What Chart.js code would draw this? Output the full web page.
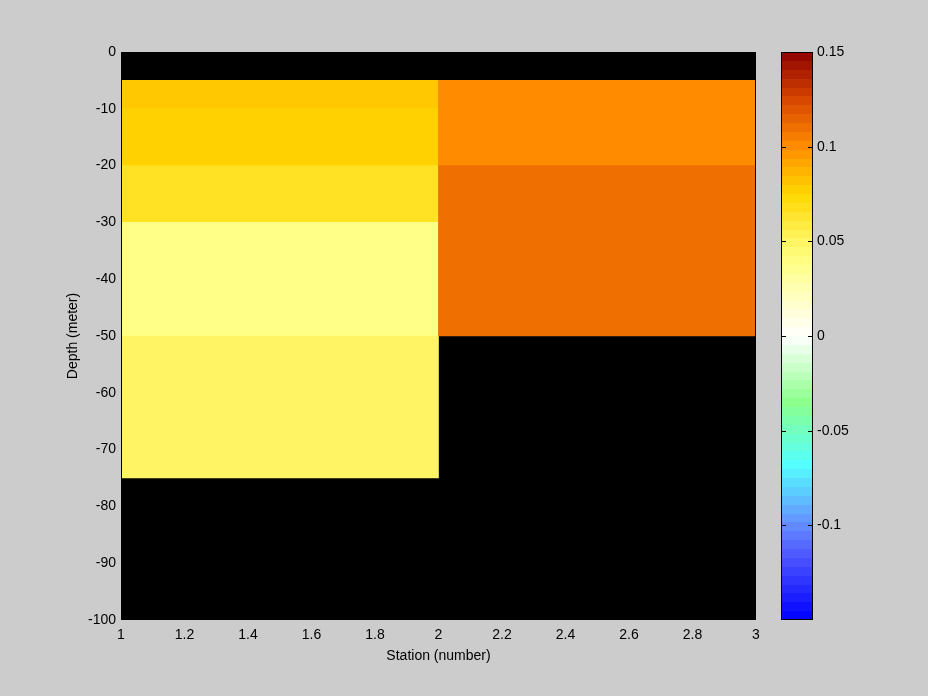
<!DOCTYPE html>
<html>
<head>
<meta charset="utf-8">
<script src="https://cdn.jsdelivr.net/npm/chart.js@4.4.0/dist/chart.umd.min.js"></script>
<style>
  html, body { margin: 0; padding: 0; background: #cccccc; }
  #wrap { position: relative; width: 928px; height: 696px; }
  canvas { position: absolute; left: 0; top: 0; }
</style>
</head>
<body>
<div id="wrap">
  <canvas id="section" width="928" height="696"></canvas>
  <canvas id="colorbar" width="928" height="696"></canvas>
</div>
<script>
// pcolor columns: station 1 fills 1..2, station 2 fills 2..3
const stations = ['st1', 'st2'];

// station 1 layers (meter) and values
const st1Top = [-5, -10, -20, -30, -50];
const st1Bottom = [-10, -20, -30, -50, -75];
const st1Value = [0.080, 0.077, 0.066, 0.038, 0.050];

// station 2 layers (meter) and values
const st2Top = [-5, -20];
const st2Bottom = [-20, -50];
const st2Value = [0.100, 0.110];

// tick positions
const stationTicks = [1, 1.2, 1.4, 1.6, 1.8, 2, 2.2, 2.4, 2.6, 2.8, 3];
const depthTicks = [-100, -90, -80, -70, -60, -50, -40, -30, -20, -10, 0];
const cbarTicks = [-0.1, -0.05, 0, 0.05, 0.1, 0.15];
const cbarMin = -0.15, cbarMax = 0.15, cbarLevels = 64;

// colour map stops (value, r, g, b)
const cmapStops = [
  [-0.15, 0, 0, 255],
  [-0.115, 80, 90, 255],
  [-0.1, 100, 140, 255],
  [-0.068, 85, 255, 255],
  [-0.035, 140, 255, 140],
  [0, 255, 255, 255],
  [0.025, 255, 255, 180],
  [0.038, 255, 255, 135],
  [0.05, 255, 245, 100],
  [0.075, 255, 215, 0],
  [0.1, 255, 140, 0],
  [0.125, 215, 70, 0],
  [0.15, 140, 0, 0]
];

function colormap(v) {
  let i = 1;
  while (i < cmapStops.length - 1 && v > cmapStops[i][0]) i++;
  const a = cmapStops[i - 1], b = cmapStops[i];
  const t = Math.min(1, Math.max(0, (v - a[0]) / (b[0] - a[0])));
  const c = [1, 2, 3].map(k => Math.round(a[k] + (b[k] - a[k]) * t));
  return `rgb(${c[0]},${c[1]},${c[2]})`;
}

const font = { family: "'Liberation Sans', Arial, Helvetica, sans-serif", size: 14 };

const cells = [];
st1Top.forEach((t, i) => cells.push({ x: 'st1', y: [st1Bottom[i], t], v: st1Value[i] }));
st2Top.forEach((t, i) => cells.push({ x: 'st2', y: [st2Bottom[i], t], v: st2Value[i] }));

// black axes background (NaN areas) and box
const axesBox = {
  id: 'axesBox',
  beforeDatasetsDraw(chart) {
    const { ctx, chartArea: a } = chart;
    ctx.save();
    ctx.fillStyle = '#000';
    ctx.fillRect(a.left, a.top, a.right - a.left, a.bottom - a.top);
    ctx.restore();
  },
  afterDatasetsDraw(chart) {
    const { ctx, chartArea: a } = chart;
    ctx.save();
    ctx.strokeStyle = '#000';
    ctx.lineWidth = 1;
    ctx.strokeRect(a.left + 0.5, a.top + 0.5, a.right - a.left - 1, a.bottom - a.top - 1);
    ctx.restore();
  }
};

new Chart(document.getElementById('section'), {
  type: 'bar',
  data: {
    labels: stations,
    datasets: [{
      data: cells,
      xAxisID: 'xc',
      yAxisID: 'y',
      backgroundColor: cells.map(c => colormap(c.v)),
      borderWidth: 0,
      categoryPercentage: 1,
      barPercentage: 1
    }]
  },
  options: {
    responsive: false,
    animation: false,
    events: [],
    layout: { padding: { left: 0, top: 52, right: 172, bottom: 0 } },
    plugins: { legend: { display: false }, tooltip: { enabled: false } },
    scales: {
      xc: { type: 'category', display: false, offset: true, labels: stations },
      x: {
        type: 'linear',
        position: 'bottom',
        min: 1,
        max: 3,
        offset: false,
        afterBuildTicks: s => { s.ticks = stationTicks.map(v => ({ value: v })); },
        afterFit: s => { s.height = 76; },
        grid: { display: false, drawTicks: false, offset: false },
        border: { display: false },
        ticks: { padding: 7, color: '#000', font, maxRotation: 0, autoSkip: false, callback: v => String(v) },
        title: { display: true, text: 'Station (number)', color: '#000', font, padding: { top: 0, bottom: 31 } }
      },
      y: {
        type: 'linear',
        min: -100,
        max: 0,
        afterBuildTicks: s => { s.ticks = depthTicks.map(v => ({ value: v })); },
        afterFit: s => { s.width = 121; },
        grid: { display: false, drawTicks: false },
        border: { display: false },
        ticks: { padding: 5, color: '#000', font, autoSkip: false, callback: v => String(v) },
        title: { display: true, text: 'Depth (meter)', color: '#000', font, padding: { top: 65, bottom: 0 } }
      }
    }
  },
  plugins: [axesBox]
});

// colour bar bands, border and inner tick marks
const colorbarPlugin = {
  id: 'colorbarPlugin',
  afterDraw(chart) {
    const { ctx, chartArea: a } = chart;
    const ys = chart.scales.y;
    const step = (cbarMax - cbarMin) / cbarLevels;
    ctx.save();
    for (let i = 0; i < cbarLevels; i++) {
      const lo = cbarMin + i * step, hi = lo + step;
      const y0 = Math.round(ys.getPixelForValue(hi));
      const y1 = Math.round(ys.getPixelForValue(lo));
      ctx.fillStyle = colormap(lo + step / 2);
      ctx.fillRect(a.left, y0, a.right - a.left, y1 - y0);
    }
    ctx.strokeStyle = '#000';
    ctx.lineWidth = 1;
    ctx.strokeRect(a.left + 0.5, a.top + 0.5, a.right - a.left - 1, a.bottom - a.top - 1);
    ctx.beginPath();
    cbarTicks.forEach(v => {
      const y = Math.round(ys.getPixelForValue(v)) + 0.5;
      ctx.moveTo(a.left, y); ctx.lineTo(a.left + 5, y);
      ctx.moveTo(a.right - 5, y); ctx.lineTo(a.right, y);
    });
    ctx.stroke();
    ctx.restore();
  }
};

new Chart(document.getElementById('colorbar'), {
  type: 'bar',
  data: { labels: [''], datasets: [] },
  options: {
    responsive: false,
    animation: false,
    events: [],
    layout: { padding: { left: 781, top: 52, right: 0, bottom: 76 } },
    plugins: { legend: { display: false }, tooltip: { enabled: false } },
    scales: {
      x: { display: false },
      y: {
        position: 'right',
        min: cbarMin,
        max: cbarMax,
        afterBuildTicks: s => { s.ticks = cbarTicks.map(v => ({ value: v })); },
        afterFit: s => { s.width = 115; },
        grid: { display: false, drawTicks: false },
        border: { display: false },
        ticks: { padding: 4, color: '#000', font, autoSkip: false, callback: v => String(v) }
      }
    }
  },
  plugins: [colorbarPlugin]
});
</script>
</body>
</html>
